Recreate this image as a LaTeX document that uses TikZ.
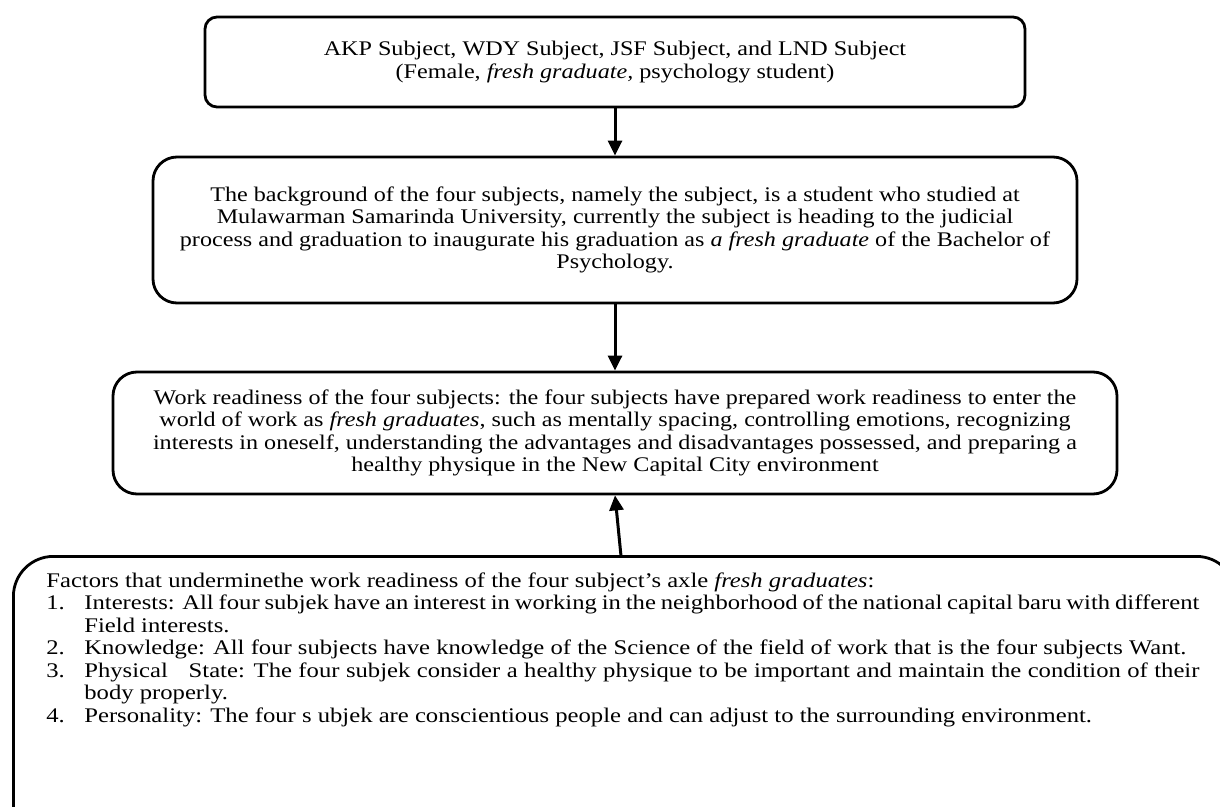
\documentclass[tikz,border=0pt]{standalone}
\usepackage{fontspec}
\setmainfont[FakeStretch=1.16]{Liberation Serif}
\newfontfamily\factorfont[FakeStretch=1.185]{Liberation Serif}
\usetikzlibrary{arrows.meta, positioning}
\newcommand{\factoritem}[2]{\par\hangindent=19pt\hangafter=1\noindent\makebox[19pt][l]{#1}#2}
\tikzset{
    process/.style  ={rectangle, rounded corners=12pt, draw=black, line width=1.4pt, align=center, inner sep=0pt, font=\fontsize{10.4}{11.25}\selectfont},
    factorbox/.style={rectangle, rounded corners=20pt, draw=black, line width=1.4pt, inner xsep=16.5pt, inner ysep=8pt, font=\factorfont\fontsize{10.4}{11.25}\selectfont},
    flowarrow/.style={-{Triangle[length=7.5pt, width=7pt]}, line width=1.5pt},
}
\begin{document}
\begin{tikzpicture}[x=0.5pt, y=-0.5pt]
    \useasboundingbox (0,0) rectangle (1220,807);
    \clip (0,0) rectangle (1220,807);
    % boxes
    \node[process, rounded corners=6pt, minimum width=410pt, minimum height=45pt] (subjects) at (615,62)
        {AKP Subject, WDY Subject, JSF Subject, and LND Subject\\(Female, \textit{fresh graduate,} psychology student)};
    \node[process, minimum width=462pt, minimum height=73pt] (background) at (615,230)
        {The background of the four subjects, namely the subject, is a student who studied at\\Mulawarman Samarinda University, currently the subject is heading to the judicial\\process and graduation to inaugurate his graduation as \textit{a fresh graduate} of the Bachelor of\\Psychology.};
    \node[process, minimum width=502pt, minimum height=61pt] (readiness) at (615,433)
        {Work readiness of the four subjects: the four subjects have prepared work readiness to enter the\\world of work as \textit{fresh graduates}, such as mentally spacing, controlling emotions, recognizing\\interests in oneself, understanding the advantages and disadvantages possessed, and preparing a\\healthy physique in the New Capital City environment};
    \node[factorbox, anchor=north west] (factors) at (12,555) {\parbox[c][133pt][t]{578.5pt}{\rightskip=2pt
        Factors that underminethe work readiness of the four subject’s axle \textit{fresh graduates}:
        \factoritem{1.}{Interests: All four subjek have an interest in working in the neighborhood of the national capital baru with different Field interests.}
        \factoritem{2.}{Knowledge: All four subjects have knowledge of the Science of the field of work that is the four subjects Want.}
        \factoritem{3.}{Physical\quad State: The four subjek consider a healthy physique to be important and maintain the condition of their body properly.}
        \factoritem{4.}{Personality: The four s ubjek are conscientious people and can adjust to the surrounding environment.}\par}};
    % connectors
    \draw[flowarrow] (subjects) -- (background);
    \draw[flowarrow] (background) -- (readiness);
    \draw[flowarrow] ([xshift=-2pt]factors.north) -- (readiness.south);
\end{tikzpicture}
\end{document}
